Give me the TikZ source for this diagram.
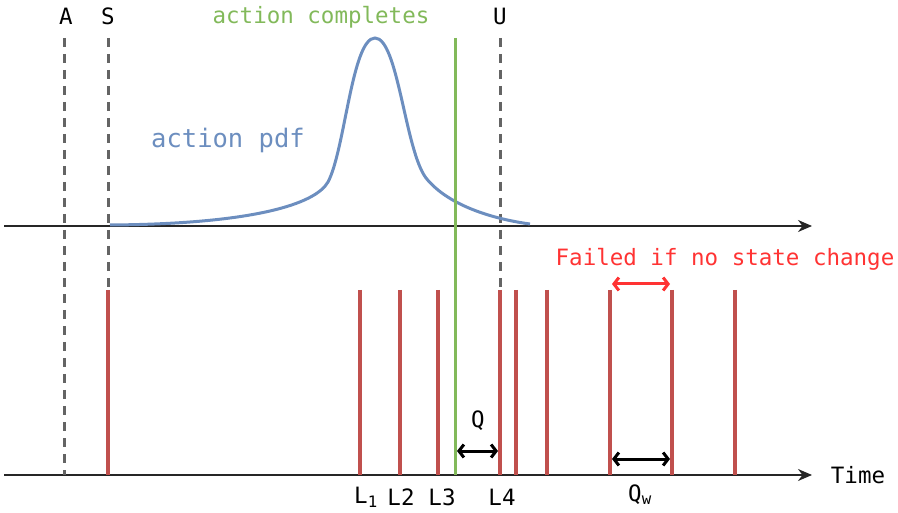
\documentclass[tikz,border=0pt]{standalone}
\usepackage{fontspec}
\setmonofont{DejaVu Sans Mono}
\usetikzlibrary{arrows.meta}
\definecolor{barred}{RGB}{192,80,77}
\definecolor{pdfblue}{RGB}{108,142,191}
\definecolor{actgreen}{RGB}{130,185,90}
\definecolor{failred}{RGB}{255,51,51}
\definecolor{dashgray}{RGB}{100,100,100}
\tikzset{
  lbl/.style={font=\fontsize{22.5}{26}\selectfont\ttfamily, inner sep=0pt},
  axis/.style={line width=1.8pt, black!85, -{Stealth[length=14pt,width=12pt]}},
  bar/.style={line width=4pt, barred},
  vdash/.style={line width=3pt, dashgray, dash pattern=on 9pt off 7pt},
  dim/.style={line width=3pt, {Straight Barb[length=5pt,width=13pt]}-{Straight Barb[length=5pt,width=13pt]}},
}
\begin{document}
\begin{tikzpicture}[x=1pt,y=-1pt]
\useasboundingbox (0,0) rectangle (898,513);
% axes
\coordinate (t0) at (4,226); \coordinate (t1) at (812,226);
\coordinate (b0) at (4,475); \coordinate (b1) at (812,475);
\draw[axis] (t0) -- (t1);
\draw[axis] (b0) -- (b1);
% dashed lines
\coordinate (a0) at (64,38); \coordinate (a1) at (64,475);
\coordinate (s0) at (108,38); \coordinate (s1) at (108,290);
\coordinate (u0) at (500,38); \coordinate (u1) at (500,290);
\draw[vdash] (a0) -- (a1);
\draw[vdash] (s0) -- (s1);
\draw[vdash] (u0) -- (u1);
\node[lbl] (A) at (66,16) {A};
\node[lbl] (S) at (108,16) {S};
\node[lbl] (U) at (500,16) {U};
% pdf curve
\draw[pdfblue, line width=3pt] (110,225) .. controls (250,224) and (315,205) .. (328,182)
  .. controls (345,150) and (352,38) .. (375,38)
  .. controls (398,38) and (405,150) .. (426,178)
  .. controls (450,208) and (500,220) .. (530,224);
\node[lbl, font=\fontsize{25.5}{28}\selectfont\ttfamily, text=pdfblue] (pdf) at (228,140) {action pdf};
% bars
\foreach \x/\n in {108/s,360/l1,400/l2,438/l3,500/l4,516/e1,547/e2,610/e3,672/e4,735/e5}{
  \coordinate (\n top) at (\x,290); \coordinate (\n bot) at (\x,475);
  \draw[bar] (\n top) -- (\n bot);
}
% green line
\coordinate (g0) at (455,38); \coordinate (g1) at (455,475);
\draw[actgreen, line width=3pt] (g0) -- (g1);
\node[lbl, text=actgreen] (ac) at (321,17) {action completes};
% Q
\coordinate (q0) at (457,451); \coordinate (q1) at (498,451);
\draw[dim] (q0) -- (q1);
\node[lbl] (Q) at (478,421) {Q};
% Qw
\coordinate (w0) at (612,459); \coordinate (w1) at (670,459);
\draw[dim] (w0) -- (w1);
\node[lbl] (Qw) at (640,495) {Q\textsubscript{w}};
% failed
\coordinate (f0) at (612,284); \coordinate (f1) at (670,284);
\draw[dim, failred] (f0) -- (f1);
\node[lbl, text=failred] (fail) at (725,259) {Failed if no state change};
% labels
\node[lbl] (L1) at (366,497) {L\textsubscript{1}};
\node[lbl] (L2) at (401,497) {L2};
\node[lbl] (L3) at (442,497) {L3};
\node[lbl] (L4) at (502,497) {L4};
\node[lbl] (time) at (858,475) {Time};
\end{tikzpicture}
\end{document}
